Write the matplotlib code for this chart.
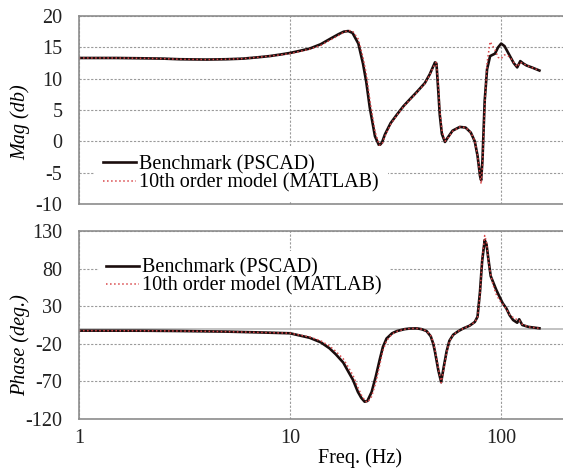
import matplotlib
matplotlib.use("Agg")
import matplotlib.pyplot as plt

plt.rcParams['font.family'] = ['Liberation Serif', 'DejaVu Serif']
plt.rcParams['axes.unicode_minus'] = False

# Magnitud - benchmark (PSCAD)
f_mag = [1.0, 1.5, 2.0, 2.5, 3.0, 4.0, 5.0, 6.0, 7.0, 8.0, 9.0, 10.0, 11.0, 12.4,
         14.0, 15.4, 17.0, 18.0, 18.9, 19.8, 21.1, 22.2, 23.0, 23.9, 25.3, 26.5,
         27.3, 28.2, 30.0, 32.2, 34.5, 37.0, 40.0, 43.6, 46.0, 48.7, 49.5, 50.5,
         51.3, 52.5, 54.3, 56.0, 59.0, 63.9, 68.0, 72.0, 75.2, 77.5, 79.6, 80.6,
         81.8, 83.8, 86.0, 88.9, 93.8, 97.0, 100.3, 104.0, 110.0, 115.0, 119.5,
         123.6, 128.0, 132.4, 140.0, 152.3]
mag_pscad = [13.3, 13.3, 13.25, 13.2, 13.1, 13.05, 13.1, 13.2, 13.4, 13.6, 13.85,
             14.1, 14.4, 14.8, 15.5, 16.3, 17.1, 17.5, 17.6, 17.3, 15.6, 12.4, 9.5,
             5.4, 0.8, -0.7, -0.2, 1.1, 2.9, 4.3, 5.6, 6.7, 7.9, 9.3, 10.7, 12.6,
             12.4, 8.0, 4.3, 1.2, -0.1, 0.6, 1.7, 2.3, 2.2, 1.4, 0.0, -2.3, -5.5,
             -6.2, -3.0, 6.5, 11.5, 13.6, 14.0, 15.0, 15.6, 15.2, 13.7, 12.5, 11.8,
             12.8, 12.4, 12.1, 11.8, 11.3]
# Magnitud - modelo de orden 10 (MATLAB)
mag_matlab = [13.3, 13.3, 13.25, 13.2, 13.1, 13.05, 13.1, 13.2, 13.4, 13.6, 13.8,
              14.0, 14.3, 14.7, 15.3, 16.1, 16.9, 17.4, 17.7, 17.6, 16.3, 13.4, 10.8,
              6.7, 1.6, -0.6, -0.5, 0.8, 2.7, 4.2, 5.5, 6.6, 7.8, 9.2, 10.6, 12.4,
              12.6, 9.0, 5.2, 1.8, 0.0, 0.5, 1.6, 2.3, 2.2, 1.4, 0.1, -2.2, -5.3,
              -6.8, -4.0, 5.5, 12.5, 15.9, 14.6, 13.4, 13.2, 13.8, 13.5, 12.6, 11.9,
              12.6, 12.4, 12.1, 11.8, 11.3]

# Fase - benchmark (PSCAD)
f_ph = [1.0, 2.0, 3.0, 5.0, 7.0, 10.0, 12.4, 14.0, 15.4, 16.5, 17.9, 19.0, 19.9,
        21.0, 21.8, 22.6, 23.3, 24.4, 25.5, 26.7, 27.6, 28.7, 30.5, 32.2, 35.0,
        37.0, 40.0, 42.0, 44.4, 46.5, 47.8, 48.7, 50.5, 52.1, 53.5, 55.3, 57.0,
        59.4, 63.0, 66.5, 71.0, 75.2, 77.5, 79.6, 81.5, 83.8, 85.5, 87.5, 89.5,
        91.9, 95.0, 98.5, 102.0, 106.2, 110.0, 114.3, 119.5, 122.1, 126.3, 135.0,
        152.3]
ph_pscad = [-2.5, -2.6, -3.0, -3.8, -4.8, -6.0, -12, -18, -26, -34, -45, -58, -68,
            -84, -92, -97, -96, -84, -64, -40, -24, -13, -6, -3, -0.5, 0.3, 0.5,
            -0.5, -3, -10, -20, -30.5, -55, -71, -52, -30, -16, -8, -3, 0.6, 4, 9,
            16, 49, 90, 118, 112, 90, 70, 62, 52, 42.6, 34, 27, 18, 11.6, 8, 12.6,
            5, 2.5, 0.6]
# Fase - modelo de orden 10 (MATLAB)
ph_matlab = [-2.5, -2.6, -3.0, -3.8, -4.8, -5.8, -11, -16, -23, -30, -40, -52, -62,
             -78, -88, -95, -98, -90, -72, -47, -29, -16, -7, -3.5, -0.6, 0.3, 0.5,
             -0.5, -3, -9, -18, -28, -52, -72, -55, -32, -17, -8, -3, 0.6, 4, 9,
             15, 45, 92, 124, 115, 88, 72, 58, 46, 38, 33, 26, 19, 15, 12, 11,
             6, 2.5, 0.6]

black = '#1a0d0d'
red = '#d9474a'
grid_kw = dict(color='#9a9a9a', linestyle=(0, (2, 1.5)), linewidth=0.8)

fig = plt.figure(figsize=(5.63, 4.71), dpi=100)
ax1 = fig.add_axes([79 / 563, 1 - 204 / 471, 1 - 79 / 563, 188 / 471])
ax2 = fig.add_axes([79 / 563, 1 - 419 / 471, 1 - 79 / 563, 188 / 471])

for ax in (ax1, ax2):
    ax.set_xscale('log')
    ax.set_xlim(1, 197)
    ax.set_xticks([1, 10, 100])
    ax.xaxis.set_minor_locator(matplotlib.ticker.NullLocator())
    ax.tick_params(length=0, labelsize=14.5, pad=12, colors='#222222')
    ax.spines['right'].set_visible(False)
    for s in ('left', 'top', 'bottom'):
        ax.spines[s].set_color('#8c8c8c')
        ax.spines[s].set_linewidth(1.2)
    ax.set_axisbelow(True)

# Magnitud
ax1.set_ylim(-10, 20)
ax1.set_yticks([-10, -5, 0, 5, 10, 15, 20])
ax1.set_xticklabels([])
ax1.grid(True, **grid_kw)
ax1.plot(f_mag, mag_pscad, color=black, lw=1.9, label='Benchmark (PSCAD)')
ax1.plot(f_mag, mag_matlab, color=red, lw=1.1, ls=':', label='10th order model (MATLAB)')
leg1 = ax1.legend(loc='center left', bbox_to_anchor=(0.031, 0.16), fontsize=14.5,
                  frameon=True, fancybox=False, edgecolor='none', framealpha=1,
                  handlelength=1.65, handletextpad=0.15, labelspacing=-0.05,
                  borderpad=0.45, borderaxespad=0)

# Fase
ax2.set_ylim(-120, 130)
ax2.set_yticks([-120, -70, -20, 30, 80, 130])
ax2.set_xticklabels(['1', '10', '100'])
ax2.tick_params(axis='x', pad=7)
ax2.grid(True, **grid_kw)
ax2.axhline(0, color='#bdbdbd', lw=1.3, zorder=1)
ax2.plot(f_ph, ph_pscad, color=black, lw=1.9, label='Benchmark (PSCAD)')
ax2.plot(f_ph, ph_matlab, color=red, lw=1.1, ls=':', label='10th order model (MATLAB)')
leg2 = ax2.legend(loc='center left', bbox_to_anchor=(0.041, 0.755), fontsize=14.5,
                  frameon=True, fancybox=False, edgecolor='none', framealpha=1,
                  handlelength=1.65, handletextpad=0.15, labelspacing=-0.05,
                  borderpad=0.35, borderaxespad=0)

fig.text(20 / 563, 1 - 122 / 471, 'Mag (db)', rotation=90, ha='center', va='center',
         fontsize=14.5, style='italic')
fig.text(20 / 563, 1 - 345 / 471, 'Phase (deg.)', rotation=90, ha='center', va='center',
         fontsize=14.5, style='italic')
fig.text(360 / 563, 1 - 458 / 471, 'Freq. (Hz)', ha='center', va='center', fontsize=14.5)

fig.savefig('out.png', dpi=100)
